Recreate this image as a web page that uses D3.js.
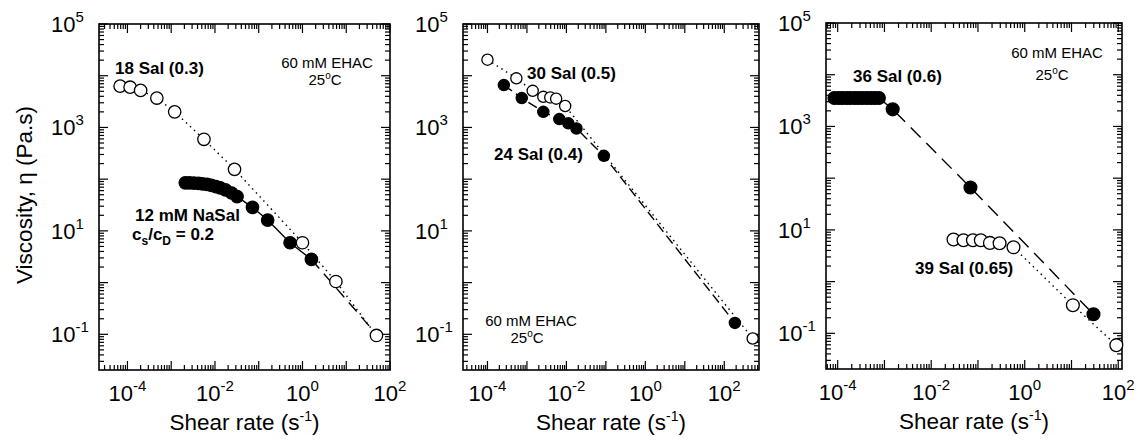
<!DOCTYPE html>
<html>
<head>
<meta charset="utf-8">
<script src="https://cdn.jsdelivr.net/npm/d3@7"></script>
<style>
  body { margin: 0; background: #fff; }
  text { font-family: "Liberation Sans", Arial, Helvetica, sans-serif; fill: #000; }
</style>
</head>
<body>
<svg id="chart" width="1140" height="445"></svg>
<script>
// ---- data (shear rate in 1/s, viscosity in Pa.s) ----
var sal18Rate = [6.8e-5, 1.15e-4, 2.0e-4, 4.7e-4, 1.2e-3, 5.6e-3, 0.028, 1.0, 5.8, 49];
var sal18Visc = [6300, 6000, 5200, 3700, 2000, 590, 155, 5.9, 1.05, 0.095];

var nasal12Rate = [0.0021, 0.0026, 0.0033, 0.0042, 0.0052, 0.0066, 0.0083, 0.0105, 0.0132, 0.0174, 0.024, 0.032, 0.072, 0.16, 0.52, 1.6];
var nasal12Visc = [85, 85, 84, 83, 81, 79, 76, 72, 68, 62, 54, 46, 28.5, 16.2, 5.9, 2.8];
var nasal12TailRate = [1.6, 49];
var nasal12TailVisc = [2.8, 0.1];

var sal30Rate = [1.0e-4, 5.4e-4, 1.4e-3, 2.6e-3, 3.9e-3, 5.5e-3, 9.3e-3, 525];
var sal30Visc = [20400, 8900, 5100, 3900, 3800, 3600, 2600, 0.083];

var sal24Rate = [2.6e-4, 7.4e-4, 2.6e-3, 6.6e-3, 0.0112, 0.018, 0.089, 186];
var sal24Visc = [6600, 3700, 2000, 1450, 1200, 955, 282, 0.166];

var sal36Rate = [8.5e-5, 1.05e-4, 1.26e-4, 1.55e-4, 1.86e-4, 2.3e-4, 2.8e-4, 3.4e-4, 4.2e-4, 5.1e-4, 6.2e-4, 7.6e-4, 1.5e-3, 0.069, 29.5];
var sal36Visc = [3550, 3550, 3550, 3550, 3550, 3550, 3550, 3550, 3550, 3550, 3550, 3550, 2140, 66, 0.234];

var sal39Rate = [0.030, 0.049, 0.078, 0.115, 0.18, 0.29, 0.575, 10.7, 91];
var sal39Visc = [6.5, 6.3, 6.3, 6.3, 5.6, 5.5, 4.6, 0.35, 0.059];

var xTickExps = [-4, -2, 0, 2];
var yTickExps = [5, 3, 1, -1];

var svg = d3.select("#chart");

function zip(xs, ys) {
  var res = [];
  for (var i = 0; i < xs.length; i++) res.push([xs[i], ys[i]]);
  return res;
}

// label like 10^n with a raised exponent
function powLabel(sel, n) {
  sel.append("tspan").text("10");
  sel.append("tspan").attr("dy", -10).attr("font-size", 15).text(n);
}

function drawPanel(p) {
  var x = d3.scaleLog().domain(p.xDomain).range([p.left, p.right]);
  var y = d3.scaleLog().domain(p.yDomain).range([p.bottom, p.top]);
  var g = svg.append("g");

  // minor + major ticks on all four sides, pointing inward
  var xlo = Math.floor(Math.log10(p.xDomain[0])), xhi = Math.ceil(Math.log10(p.xDomain[1]));
  for (var e = xlo; e <= xhi; e++) {
    for (var k = 1; k < 10; k++) {
      var v = k * Math.pow(10, e);
      if (v < p.xDomain[0] * 0.999 || v > p.xDomain[1] * 1.001) continue;
      var len = k == 1 ? 9 : 5;
      var px = x(v);
      g.append("line").attr("x1", px).attr("x2", px).attr("y1", p.bottom).attr("y2", p.bottom - len)
        .attr("stroke", "#000").attr("stroke-width", 1.2);
      g.append("line").attr("x1", px).attr("x2", px).attr("y1", p.top).attr("y2", p.top + len)
        .attr("stroke", "#000").attr("stroke-width", 1.2);
    }
  }
  var ylo = Math.floor(Math.log10(p.yDomain[0])), yhi = Math.ceil(Math.log10(p.yDomain[1]));
  for (var e = ylo; e <= yhi; e++) {
    for (var k = 1; k < 10; k++) {
      var v = k * Math.pow(10, e);
      if (v < p.yDomain[0] * 0.999 || v > p.yDomain[1] * 1.001) continue;
      var len = k == 1 ? 9 : 5;
      var py = y(v);
      g.append("line").attr("x1", p.left).attr("x2", p.left + len).attr("y1", py).attr("y2", py)
        .attr("stroke", "#000").attr("stroke-width", 1.2);
      g.append("line").attr("x1", p.right).attr("x2", p.right - len).attr("y1", py).attr("y2", py)
        .attr("stroke", "#000").attr("stroke-width", 1.2);
    }
  }

  // frame
  g.append("rect").attr("x", p.left).attr("y", p.top)
    .attr("width", p.right - p.left).attr("height", p.bottom - p.top)
    .attr("fill", "none").attr("stroke", "#000").attr("stroke-width", 1.6);

  // tick labels
  xTickExps.forEach(function(n) {
    var t = g.append("text").attr("x", x(Math.pow(10, n))).attr("y", p.bottom + 31)
      .attr("text-anchor", "middle").attr("font-size", 22);
    powLabel(t, n);
  });
  yTickExps.forEach(function(n) {
    var t = g.append("text").attr("x", p.left - 48).attr("y", y(Math.pow(10, n)) + 8)
      .attr("font-size", 22);
    powLabel(t, n);
  });

  // x axis title
  var xt = g.append("text").attr("x", (p.left + p.right) / 2).attr("y", p.bottom + 60)
    .attr("text-anchor", "middle").attr("font-size", 22.5);
  xt.append("tspan").text("Shear rate (s");
  xt.append("tspan").attr("dy", -9).attr("font-size", 14).text("-1");
  xt.append("tspan").attr("dy", 9).text(")");

  var line = d3.line().x(function(d) { return x(d[0]); }).y(function(d) { return y(d[1]); });

  p.lines.forEach(function(l) {
    g.append("path").attr("d", line(l.data)).attr("fill", "none")
      .attr("stroke", "#000").attr("stroke-width", 1.4)
      .attr("stroke-dasharray", l.dash);
  });

  p.series.forEach(function(s) {
    g.selectAll(null).data(s.data).enter().append("circle")
      .attr("cx", function(d) { return x(d[0]); })
      .attr("cy", function(d) { return y(d[1]); })
      .attr("r", p.r)
      .attr("fill", s.filled ? "#000" : "#fff")
      .attr("stroke", "#000").attr("stroke-width", 1.3);
  });

  p.notes.forEach(function(n) {
    var t = g.append("text").attr("x", n.x).attr("y", n.y)
      .attr("font-size", n.size).attr("font-weight", n.bold ? "bold" : "normal")
      .attr("text-anchor", n.anchor || "start");
    n.parts.forEach(function(part) {
      var ts = t.append("tspan").text(part.t);
      if (part.dy) ts.attr("dy", part.dy);
      if (part.size) ts.attr("font-size", part.size);
    });
  });

  return g;
}

function degNote(x, y) {
  return {x: x, y: y, size: 15, anchor: "middle",
    parts: [{t: "25"}, {t: "o", dy: -6, size: 10}, {t: "C", dy: 6}]};
}

drawPanel({
  left: 99, right: 390, top: 24, bottom: 370, r: 6.2,
  xDomain: [Math.pow(10, -4.65), 100], yDomain: [Math.pow(10, -1.69), 1e5],
  lines: [
    {data: zip(sal18Rate, sal18Visc), dash: "1.5,4"},
    {data: zip(nasal12Rate, nasal12Visc), dash: null},
    {data: zip(nasal12TailRate, nasal12TailVisc), dash: "12,7"}
  ],
  series: [
    {data: zip(sal18Rate, sal18Visc), filled: false},
    {data: zip(nasal12Rate, nasal12Visc), filled: true}
  ],
  notes: [
    {x: 115, y: 74, size: 17, bold: true, parts: [{t: "18 Sal (0.3)"}]},
    {x: 327, y: 68, size: 15, anchor: "middle", parts: [{t: "60 mM EHAC"}]},
    degNote(325, 85),
    {x: 135, y: 221, size: 17, bold: true, parts: [{t: "12 mM NaSal"}]},
    {x: 132, y: 240, size: 17, bold: true,
      parts: [{t: "c"}, {t: "s", dy: 5, size: 12}, {t: "/c", dy: -5}, {t: "D", dy: 5, size: 12}, {t: " = 0.2", dy: -5}]}
  ]
});

drawPanel({
  left: 463, right: 759, top: 24, bottom: 370, r: 5.6,
  xDomain: [Math.pow(10, -4.62), Math.pow(10, 2.88)], yDomain: [Math.pow(10, -1.69), 1e5],
  lines: [
    {data: zip(sal30Rate, sal30Visc), dash: "1.5,4"},
    {data: zip(sal24Rate, sal24Visc), dash: "10,5"}
  ],
  series: [
    {data: zip(sal30Rate, sal30Visc), filled: false},
    {data: zip(sal24Rate, sal24Visc), filled: true}
  ],
  notes: [
    {x: 527, y: 79, size: 17, bold: true, parts: [{t: "30 Sal (0.5)"}]},
    {x: 494, y: 160, size: 17, bold: true, parts: [{t: "24 Sal (0.4)"}]},
    {x: 531, y: 326, size: 15, anchor: "middle", parts: [{t: "60 mM EHAC"}]},
    degNote(527, 343)
  ]
});

drawPanel({
  left: 826, right: 1122, top: 23, bottom: 369, r: 6.4,
  xDomain: [Math.pow(10, -4.25), Math.pow(10, 2.08)], yDomain: [Math.pow(10, -1.69), 1e5],
  lines: [
    {data: zip(sal36Rate, sal36Visc), dash: "14,8"},
    {data: zip(sal39Rate, sal39Visc), dash: "1.5,4"}
  ],
  series: [
    {data: zip(sal36Rate, sal36Visc), filled: true},
    {data: zip(sal39Rate, sal39Visc), filled: false}
  ],
  notes: [
    {x: 853, y: 82, size: 17, bold: true, parts: [{t: "36 Sal (0.6)"}]},
    {x: 1057, y: 58, size: 15, anchor: "middle", parts: [{t: "60 mM EHAC"}]},
    degNote(1052, 80),
    {x: 915, y: 274, size: 17, bold: true, parts: [{t: "39 Sal (0.65)"}]}
  ]
});

// shared y axis title
svg.append("text")
  .attr("transform", "translate(32,195) rotate(-90)")
  .attr("text-anchor", "middle").attr("font-size", 22.5)
  .text("Viscosity, \u03b7  (Pa.s)");
</script>
</body>
</html>
